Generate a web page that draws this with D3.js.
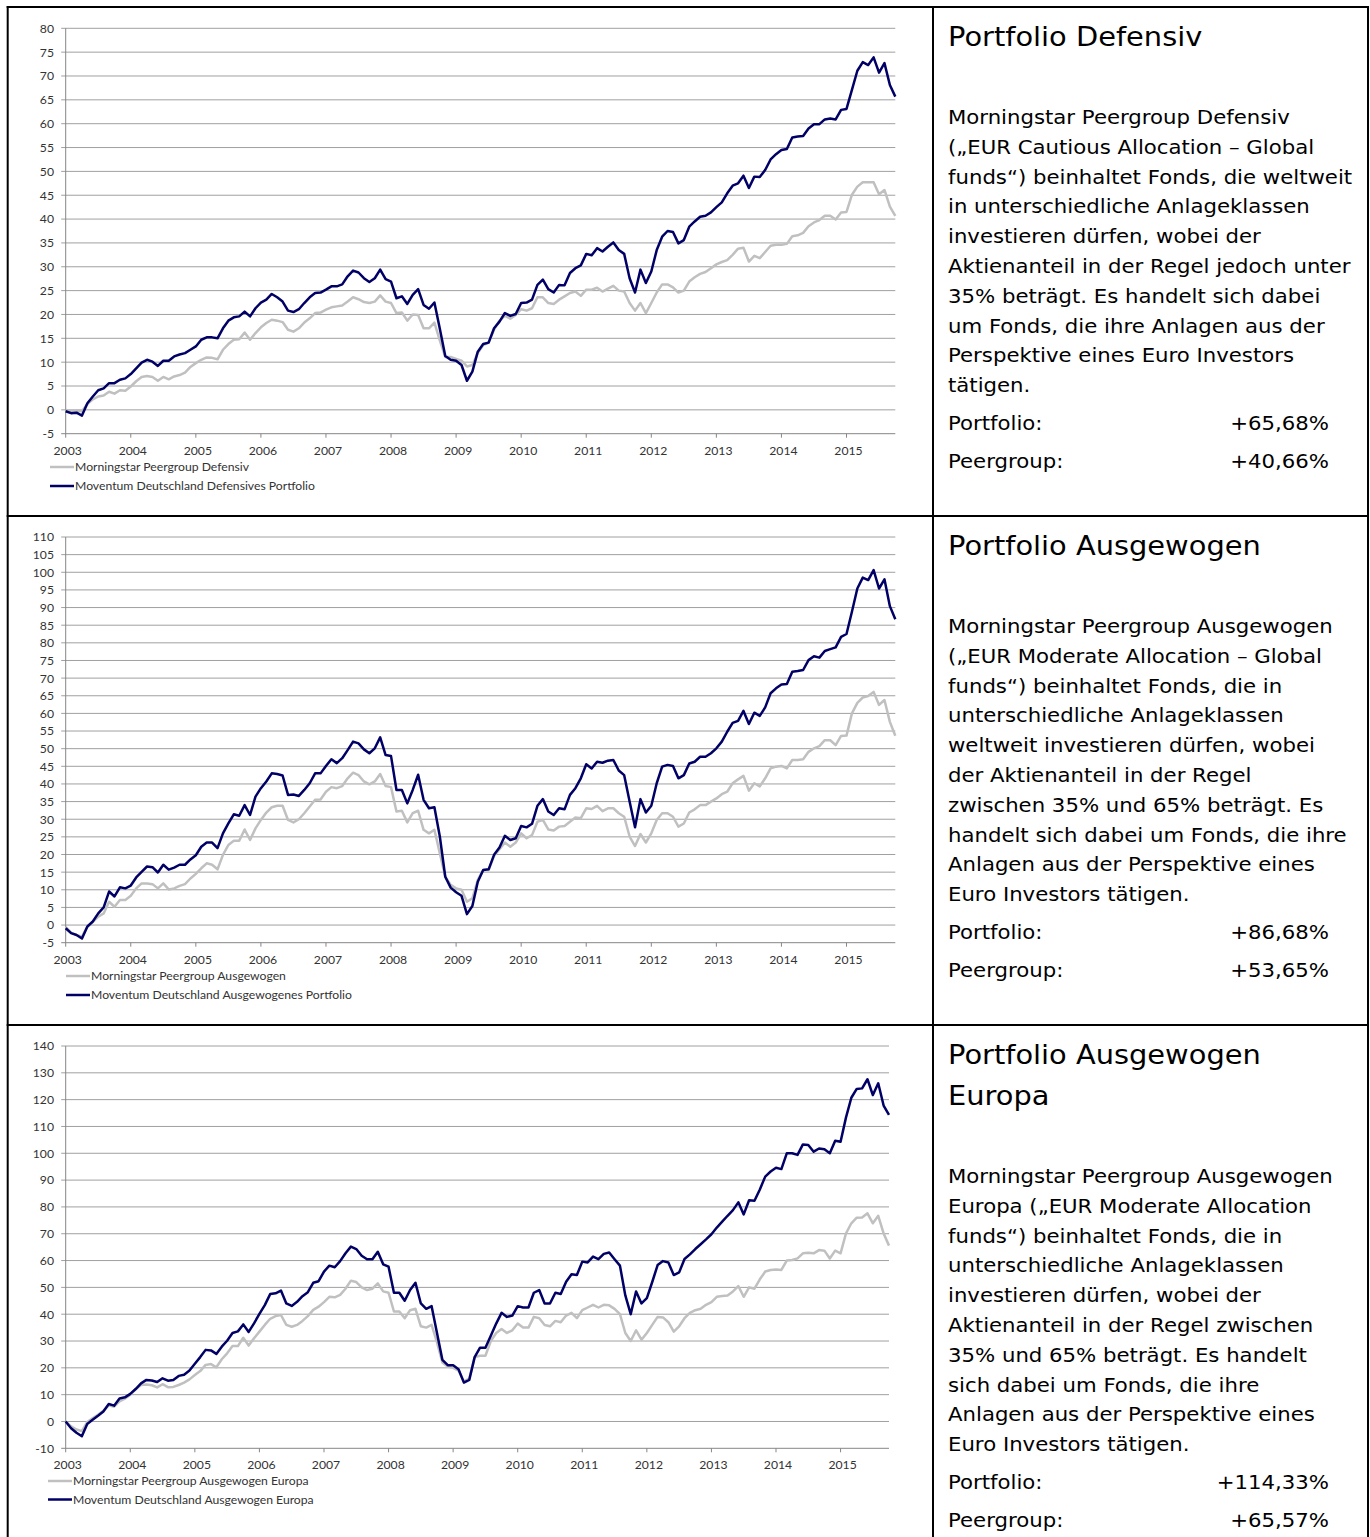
<!DOCTYPE html>
<html><head><meta charset="utf-8">
<script src="https://cdn.jsdelivr.net/npm/d3@7"></script>
<style>body{margin:0;background:#fff} svg{display:block}</style>
</head><body><svg id="c" width="1370" height="1537"></svg>
<script>
// ---------- data (monthly, index 0 = start of 2003, 154 points) ----------
const years = ["2003","2004","2005","2006","2007","2008","2009","2010","2011","2012","2013","2014","2015"];

const defensivPortfolio = [-0.3,-0.7,-0.6,-1.2,1.4,2.8,4.1,4.5,5.6,5.6,6.3,6.6,7.5,8.7,9.9,10.5,10.1,9.2,10.3,10.3,
11.2,11.6,11.9,12.6,13.3,14.7,15.2,15.2,15.0,17.1,18.7,19.4,19.6,20.6,19.6,21.3,22.5,23.1,24.3,23.6,
22.7,20.8,20.5,21.1,22.4,23.6,24.5,24.6,25.2,25.9,25.9,26.3,28.0,29.2,28.8,27.6,26.8,27.6,29.4,27.4,
26.9,23.4,23.8,22.2,24.1,25.3,22.0,21.2,22.5,17.0,11.3,10.5,10.3,9.4,6.1,8.0,12.2,13.8,14.1,17.1,
18.5,20.3,19.7,20.1,22.4,22.5,23.1,26.2,27.3,25.3,24.6,26.2,26.1,28.7,29.7,30.3,32.7,32.4,33.9,33.2,
34.2,35.1,33.5,32.7,27.6,24.6,29.4,26.6,29.0,33.5,36.3,37.5,37.3,34.9,35.6,38.4,39.5,40.5,40.7,41.4,
42.5,43.5,45.4,47.0,47.5,49.1,46.5,48.9,48.8,50.3,52.5,53.6,54.5,54.7,57.1,57.3,57.4,59.0,59.9,59.9,
60.9,61.1,60.9,62.9,63.1,67.1,71.1,72.9,72.3,73.9,70.7,72.7,68.1,65.68];

const defensivPeer = [0,-0.3,-0.2,-0.3,1.2,2.2,2.8,3.0,3.8,3.4,4.1,4.0,4.9,6.0,6.9,7.1,6.9,6.1,6.9,6.4,
7.0,7.3,7.8,9.0,9.8,10.5,11.0,10.9,10.6,12.6,13.8,14.7,14.8,16.2,14.7,16.1,17.3,18.2,18.9,18.7,
18.4,16.8,16.4,17.1,18.3,19.2,20.3,20.4,21.0,21.5,21.7,21.9,22.7,23.6,23.2,22.6,22.4,22.7,24.0,22.7,
22.4,20.3,20.4,18.7,20.0,19.9,17.1,17.1,18.3,14.5,11.1,11.1,10.7,10.3,9.1,9.4,11.9,13.6,14.1,16.8,
18.7,19.7,19.1,19.9,21.1,20.8,21.3,23.6,23.6,22.4,22.2,23.1,23.8,24.5,24.8,23.9,25.2,25.2,25.6,24.8,
25.4,26.0,25.0,24.8,22.4,20.8,22.4,20.3,22.4,24.6,26.3,26.3,25.7,24.6,25.0,26.9,27.8,28.5,28.9,29.7,
30.5,31.0,31.4,32.5,33.8,34.0,31.1,32.3,31.8,33.1,34.4,34.6,34.6,34.8,36.4,36.6,37.1,38.5,39.3,39.8,
40.7,40.7,39.9,41.4,41.5,45.1,46.8,47.7,47.7,47.7,45.2,46.1,42.6,40.66];

const ausgewogenPortfolio = [-0.9,-2.3,-2.8,-3.8,-0.4,1.0,3.3,5.0,9.5,8.1,10.7,10.4,11.2,13.5,15.1,16.6,16.4,14.9,17.1,15.7,
16.3,17.1,17.1,18.6,19.8,22.2,23.4,23.4,21.8,26.0,28.8,31.4,31.0,34.0,31.2,36.4,38.8,40.7,43.0,42.8,
42.4,36.9,37.0,36.6,38.3,40.2,43.0,43.0,45.1,47.0,45.9,47.3,49.6,52.0,51.5,49.8,48.7,50.1,53.2,48.2,
47.9,38.3,38.3,34.5,38.3,42.6,35.5,33.1,33.4,25.1,13.7,10.6,9.3,8.3,3.1,5.4,12.3,15.6,15.8,19.9,
22.0,25.3,24.1,24.6,28.1,27.7,28.7,33.8,35.7,32.2,31.2,33.1,32.8,36.9,38.8,41.6,45.6,44.4,46.3,46.0,
46.6,46.8,43.8,42.5,35.0,27.7,35.7,31.9,33.8,40.2,44.9,45.4,45.1,41.6,42.5,45.8,46.3,47.7,47.7,48.7,
50.1,52.0,54.8,57.3,57.9,60.7,57.0,60.2,59.3,61.7,65.7,67.1,68.2,68.3,71.8,72.0,72.3,75.1,76.2,75.8,
77.7,78.2,78.7,81.7,82.5,88.8,95.4,98.5,97.8,100.6,95.4,98.0,90.4,86.68];

const ausgewogenPeer = [-0.5,-2.2,-2.8,-3.3,-0.4,0.9,2.4,3.3,6.6,5.2,7.1,7.1,8.3,10.4,11.8,11.8,11.6,10.4,11.8,10.1,
10.4,11.1,11.6,13.2,14.5,16.1,17.5,17.1,15.8,19.9,22.7,23.9,23.9,27.1,24.1,27.4,29.8,31.9,33.4,33.8,
33.8,29.8,29.1,30.0,31.7,33.6,35.5,35.6,37.8,39.1,38.8,39.4,41.6,43.2,42.5,40.7,39.9,40.7,42.8,39.4,
39.1,32.2,32.4,29.1,31.7,32.4,27.0,26.0,27.0,20.3,13.7,11.4,10.4,10.0,6.6,7.6,12.8,15.6,15.6,19.6,
21.5,23.4,22.2,23.4,26.0,24.6,25.5,29.3,29.8,27.1,26.8,27.9,28.1,29.3,30.5,30.3,33.1,32.9,33.8,32.3,
33.1,33.1,31.7,30.7,25.1,22.4,25.8,23.4,26.0,29.8,31.7,31.7,30.7,27.9,28.8,31.9,32.8,34.0,34.0,35.0,
35.9,37.1,37.8,40.2,41.3,42.3,38.1,40.2,39.3,41.6,44.4,44.9,45.1,44.4,46.8,46.8,47.0,49.1,50.1,50.7,
52.4,52.4,51.0,53.6,53.7,60.0,63.0,64.5,64.9,66.1,62.4,63.8,57.6,53.65];

const europaPortfolio = [0,-2.5,-4.2,-5.5,-0.9,0.6,2.1,3.7,6.5,5.9,8.6,9.0,10.3,12.1,14.2,15.5,15.3,14.7,16.1,15.2,
15.5,17.0,17.4,19.0,21.5,24.0,26.7,26.5,25.2,27.9,30.1,33.0,33.6,36.2,33.4,36.6,40.1,43.4,47.5,47.8,
48.8,44.0,43.1,44.6,46.7,48.2,51.7,52.3,55.9,58.1,57.5,59.8,62.7,65.2,64.3,61.8,60.5,60.5,63.3,58.6,
57.7,48.0,48.0,45.0,49.0,51.7,44.0,42.0,43.0,33.0,23.0,21.0,21.0,19.5,14.5,15.5,24.0,27.5,27.5,32.0,
36.5,40.5,39.0,39.5,43.0,42.5,42.5,48.0,49.0,44.0,44.0,48.0,47.5,52.1,54.9,54.6,59.6,59.3,61.5,60.5,
62.5,63.0,60.5,58.1,47.0,40.0,48.5,44.0,46.0,52.0,58.3,59.8,59.3,54.6,55.6,60.6,62.3,64.3,66.1,67.9,
69.8,72.3,74.5,76.7,78.8,81.7,77.2,82.5,82.3,86.5,91.3,93.2,94.6,94.1,100.0,100.0,99.4,103.3,103.1,100.6,
101.8,101.5,100.0,104.7,104.3,113.3,120.7,124.0,124.2,127.6,121.7,126.1,117.8,114.33];

const europaPeer = [0,-1.8,-3.0,-3.6,-0.2,1.2,2.5,4.0,6.0,5.5,7.5,8.5,10.0,12.0,13.6,13.8,13.5,12.7,13.9,12.8,
12.9,13.6,14.5,15.7,17.3,18.8,21.1,21.4,20.2,23.2,25.4,28.1,28.1,31.2,28.3,31.0,33.5,36.0,38.3,39.3,
39.7,36.0,35.3,36.0,37.5,39.3,41.6,42.8,44.5,46.5,46.3,47.2,49.5,52.5,52.0,50.0,49.0,49.5,51.5,48.5,
48.0,41.0,41.0,38.5,41.5,42.0,35.5,35.0,36.0,29.5,22.0,20.5,20.0,19.0,15.0,16.0,24.0,24.5,24.5,30.0,
33.0,34.5,33.0,34.0,36.5,35.0,35.0,39.0,38.5,36.0,35.5,37.5,37.0,39.5,40.5,38.5,41.5,42.5,43.5,42.5,
43.5,43.3,42.0,40.0,33.0,30.0,34.0,30.5,33.0,36.0,39.0,38.8,37.0,33.5,35.5,38.5,40.5,41.5,42.0,43.5,
44.5,46.5,46.8,47.0,48.5,50.5,46.5,50.0,49.5,53.0,55.9,56.5,56.7,56.5,60.0,60.2,60.8,62.7,62.9,62.7,
63.9,63.7,60.8,63.7,62.7,70.1,73.9,76.0,76.1,77.6,73.9,76.7,70.1,65.57];

const seriesNames = [
  ["Morningstar Peergroup Defensiv", "Moventum Deutschland Defensives Portfolio"],
  ["Morningstar Peergroup Ausgewogen", "Moventum Deutschland Ausgewogenes Portfolio"],
  ["Morningstar Peergroup Ausgewogen Europa", "Moventum Deutschland Ausgewogen Europa"]
];

const titles = [["Portfolio Defensiv"], ["Portfolio Ausgewogen"], ["Portfolio Ausgewogen", "Europa"]];
const descriptions = [
  ["Morningstar Peergroup Defensiv","(„EUR Cautious Allocation – Global","funds“) beinhaltet Fonds, die weltweit","in unterschiedliche Anlageklassen","investieren dürfen, wobei der","Aktienanteil in der Regel jedoch unter","35% beträgt. Es handelt sich dabei","um Fonds, die ihre Anlagen aus der","Perspektive eines Euro Investors","tätigen."],
  ["Morningstar Peergroup Ausgewogen","(„EUR Moderate Allocation – Global","funds“) beinhaltet Fonds, die in","unterschiedliche Anlageklassen","weltweit investieren dürfen, wobei","der Aktienanteil in der Regel","zwischen 35% und 65% beträgt. Es","handelt sich dabei um Fonds, die ihre","Anlagen aus der Perspektive eines","Euro Investors tätigen."],
  ["Morningstar Peergroup Ausgewogen","Europa („EUR Moderate Allocation","funds“) beinhaltet Fonds, die in","unterschiedliche Anlageklassen","investieren dürfen, wobei der","Aktienanteil in der Regel zwischen","35% und 65% beträgt. Es handelt","sich dabei um Fonds, die ihre","Anlagen aus der Perspektive eines","Euro Investors tätigen."]
];
const resultLabels = ["Portfolio:", "Peergroup:"];
const resultValues = [["+65,68%","+40,66%"],["+86,68%","+53,65%"],["+114,33%","+65,57%"]];

// ---------- drawing ----------
const svg = d3.select("#c");
svg.append("rect").attr("width",1370).attr("height",1537).attr("fill","#fff");

const NAVY = "#000066", GREY = "#c0c0c0";
const CFONT = "Lato, 'Open Sans', sans-serif";

const charts = [
  {port: defensivPortfolio, peer: defensivPeer, top: 28.3, bottom: 433.7, left: 65.7, right: 895.3,
   yMin: -5, yMax: 80, yStep: 5, legX: 50, legY: [467, 486], fs: 12.2},
  {port: ausgewogenPortfolio, peer: ausgewogenPeer, top: 537, bottom: 942.7, left: 65.7, right: 895.3,
   yMin: -5, yMax: 110, yStep: 5, legX: 66, legY: [976, 995], fs: 12.2},
  {port: europaPortfolio, peer: europaPeer, top: 1046, bottom: 1448.3, left: 65.7, right: 889,
   yMin: -10, yMax: 140, yStep: 10, legX: 48, legY: [1481, 1499.5], fs: 12.2}
];

charts.forEach((c, ci) => {
  const g = svg.append("g");
  const n = c.port.length;
  const x = d3.scaleLinear().domain([0, n - 1]).range([c.left, c.right]);
  const y = d3.scaleLinear().domain([c.yMin, c.yMax]).range([c.bottom, c.top]);
  const yTicks = d3.range(c.yMin, c.yMax + 0.001, c.yStep);

  // gridlines
  g.selectAll(".grid").data(yTicks).join("line")
    .attr("x1", c.left - 4.5).attr("x2", c.right)
    .attr("y1", d => y(d)).attr("y2", d => y(d))
    .attr("stroke", d => d === c.yMin ? "#868686" : "#a0a0a0").attr("stroke-width", 1);

  // y axis
  g.append("line").attr("x1", c.left).attr("x2", c.left).attr("y1", c.top).attr("y2", c.bottom)
    .attr("stroke", "#868686").attr("stroke-width", 1);

  // y labels
  g.selectAll(".yl").data(yTicks).join("text")
    .attr("x", 54).attr("y", d => y(d)).attr("dy", "0.36em")
    .attr("text-anchor", "end")
    .attr("font-family", CFONT).attr("font-size", c.fs).attr("fill", "#333")
    .text(d => d);

  // x ticks
  const xTickIdx = years.map((_, i) => i * 12);
  g.selectAll(".xt").data(xTickIdx).join("line")
    .attr("x1", d => x(d)).attr("x2", d => x(d)).attr("y1", c.bottom).attr("y2", c.bottom + 4)
    .attr("stroke", "#868686");
  g.selectAll(".xl").data(years).join("text")
    .attr("x", (d, i) => x(i * 12) + 2).attr("y", c.bottom + 21)
    .attr("text-anchor", "middle")
    .attr("font-family", CFONT).attr("font-size", c.fs).attr("fill", "#333")
    .text(d => d);

  // lines
  const line = d3.line().x((d, i) => x(i)).y(d => y(d));
  g.append("path").datum(c.peer).attr("d", line).attr("fill", "none")
    .attr("stroke", GREY).attr("stroke-width", 2.5).attr("stroke-linejoin", "round");
  g.append("path").datum(c.port).attr("d", line).attr("fill", "none")
    .attr("stroke", NAVY).attr("stroke-width", 2.5).attr("stroke-linejoin", "round");

  // legend
  [GREY, NAVY].forEach((col, li) => {
    g.append("line").attr("x1", c.legX).attr("x2", c.legX + 24)
      .attr("y1", c.legY[li]).attr("y2", c.legY[li]).attr("stroke", col).attr("stroke-width", 2.5);
    g.append("text").attr("x", c.legX + 25).attr("y", c.legY[li]).attr("dy", "0.36em")
      .attr("font-family", CFONT).attr("font-size", c.fs).attr("fill", "#333")
      .text(seriesNames[ci][li]);
  });
});

// ---------- right-hand text panels ----------
const panelTop = [0, 509, 1018];
const FONT = "'DejaVu Sans', Verdana, sans-serif";
const SX = 1.09;
titles.forEach((tl, pi) => {
  const base = panelTop[pi];
  tl.forEach((t, k) => {
    svg.append("text").attr("transform", `translate(948,${base + 46 + k * 41}) scale(${SX},1)`)
      .attr("font-family", FONT).attr("font-size", 26.5).attr("fill", "#000").text(t);
  });
  const descStart = base + 124 + (tl.length - 1) * 41;
  descriptions[pi].forEach((t, k) => {
    svg.append("text").attr("transform", `translate(948,${descStart + k * 29.8}) scale(${SX},1)`)
      .attr("font-family", FONT).attr("font-size", 19.5).attr("fill", "#000").text(t);
  });
  const resStart = descStart + 9 * 29.8 + 38;
  resultLabels.forEach((lab, k) => {
    svg.append("text").attr("transform", `translate(948,${resStart + k * 37.5}) scale(${SX},1)`)
      .attr("font-family", FONT).attr("font-size", 19.5).attr("fill", "#000").text(lab);
    svg.append("text").attr("transform", `translate(1329,${resStart + k * 37.5}) scale(${SX},1)`)
      .attr("text-anchor", "end")
      .attr("font-family", FONT).attr("font-size", 19.5).attr("fill", "#000").text(resultValues[pi][k]);
  });
});

// ---------- table borders ----------
const bw = 2;
[[7.7, 6, 7.7, 1537], [933, 6, 933, 1537], [1368, 6, 1368, 1537],
 [6.7, 7, 1369, 7], [6.7, 516, 1369, 516], [6.7, 1025, 1369, 1025]].forEach(l => {
  svg.append("line").attr("x1", l[0]).attr("y1", l[1]).attr("x2", l[2]).attr("y2", l[3])
    .attr("stroke", "#000").attr("stroke-width", bw);
});
</script></body></html>
